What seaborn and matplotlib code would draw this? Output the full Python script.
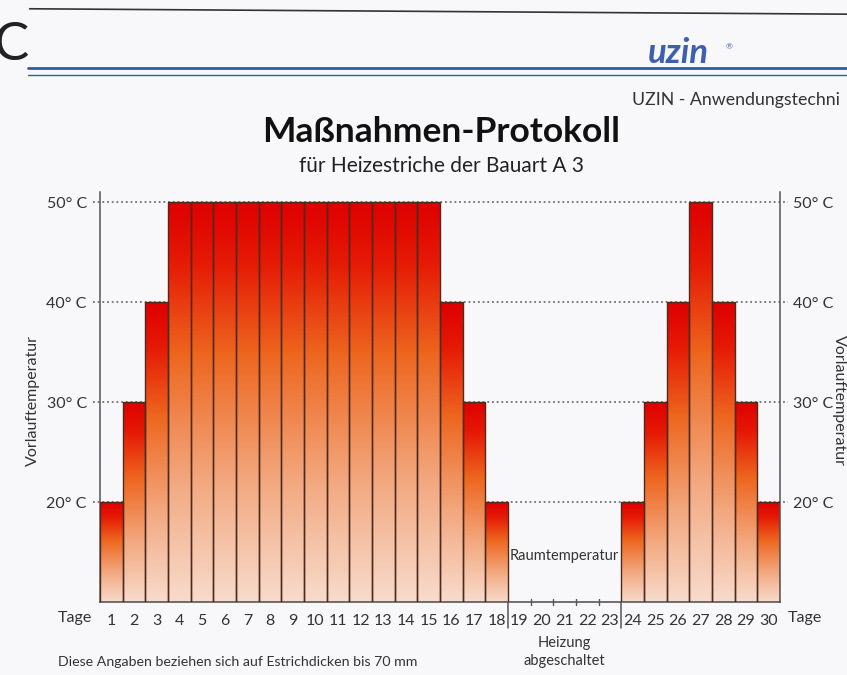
import numpy as np
import pandas as pd
import matplotlib
matplotlib.use("Agg")
import matplotlib.pyplot as plt
import matplotlib.transforms as mtransforms
from matplotlib.colors import LinearSegmentedColormap
import seaborn as sns

# Vorlauftemperatur je Tag (Tage 19-23: Heizung abgeschaltet)
days = [1, 2, 3, 4, 5, 6, 7, 8, 9, 10, 11, 12, 13, 14, 15, 16, 17, 18,
        24, 25, 26, 27, 28, 29, 30]
temps = [20, 30, 40, 50, 50, 50, 50, 50, 50, 50, 50, 50, 50, 50, 50, 40, 30, 20,
         20, 30, 40, 50, 40, 30, 20]
all_days = list(range(1, 31))
off_days = [19, 20, 21, 22, 23]
levels = [20, 30, 40, 50]
level_labels = ["20° C", "30° C", "40° C", "50° C"]

sns.set_style("white")
plt.rcParams["font.family"] = ["Lato", "DejaVu Sans"]

BG = "#f8f8fa"
EDGE = "#4e2a1e"
AXC = "#555555"

fig = plt.figure(figsize=(8.47, 6.75), dpi=100, facecolor=BG)
ax = fig.add_axes([100 / 847, 73 / 675, 680 / 847, 410 / 675])
ax.set_facecolor("none")

df = pd.DataFrame({"Tag": days, "Temp": temps})
sns.barplot(data=df, x="Tag", y="Temp", native_scale=True, width=1.0,
            color="#e03000", edgecolor=EDGE, linewidth=1.0, ax=ax, zorder=3)

# gradient fill (red top -> pale bottom) clipped to each bar
grad_cmap = LinearSegmentedColormap.from_list("heat", [
    (0.0, (0.97, 0.86, 0.80)),
    (0.3, (0.95, 0.66, 0.50)),
    (0.62, (0.93, 0.40, 0.12)),
    (0.85, (0.90, 0.10, 0.02)),
    (1.0, (0.87, 0.0, 0.0)),
])
grad = np.linspace(0, 1, 256).reshape(-1, 1)
for p in ax.patches:
    x0, w, h = p.get_x(), p.get_width(), p.get_height()
    im = ax.imshow(grad, cmap=grad_cmap, origin="lower", aspect="auto",
                   extent=[x0, x0 + w, 10, h], zorder=2, interpolation="bilinear")
    im.set_clip_path(p)
    p.set_facecolor("none")

ax.set_xlim(0.5, 30.5)
ax.set_ylim(10, 51)

# dotted reference lines
trans = mtransforms.blended_transform_factory(ax.transAxes, ax.transData)
for lv in levels:
    ax.plot([-0.011, 1.012], [lv, lv], transform=trans, ls=(0, (1, 1.6)),
            color="#707070", lw=1.3, clip_on=False, zorder=1)

ax.spines["top"].set_visible(False)
for side in ["left", "right", "bottom"]:
    ax.spines[side].set_visible(True)
    ax.spines[side].set_color(AXC)
    ax.spines[side].set_linewidth(1.1)
ax.spines["bottom"].set_color("#4a4a4a")

ax.set_yticks(levels)
ax.set_yticklabels(level_labels)
ax.set_xticks(all_days)
ax.set_xticklabels([str(d) for d in all_days])
ax.tick_params(axis="y", left=False, right=False, labelleft=True, labelright=True,
               pad=6, labelsize=11.5, labelcolor="#333333")
ax.tick_params(axis="x", bottom=False, pad=5, labelsize=11.5, labelcolor="#333333")
ax.set_xlabel("")
ax.set_ylabel("")

# heating off zone: separators and small ticks
for xs in [18.5, 23.5]:
    ax.plot([xs, xs], [10, 7.4], color=AXC, lw=1.1, clip_on=False, zorder=4)
for d in off_days[:-1]:
    ax.plot([d + 0.5, d + 0.5], [9.75, 10.35], color=AXC, lw=1.0, clip_on=False, zorder=4)

ax.text(21.0, 14.6, "Raumtemperatur", ha="center", va="center", fontsize=10.5, color="#333333")
ax.text(21.0, 5.0, "Heizung\nabgeschaltet", ha="center", va="center", fontsize=10.5,
        color="#333333", linespacing=1.3)
ax.text(-0.6, 8.4, "Tage", ha="center", va="center", fontsize=11.5, color="#333333", clip_on=False)
ax.text(31.6, 8.4, "Tage", ha="center", va="center", fontsize=11.5, color="#333333", clip_on=False)
ax.text(-2.45, 30.2, "Vorlauftemperatur", rotation=90, ha="center", va="center",
        fontsize=11.5, color="#333333")
ax.text(33.1, 30.2, "Vorlauftemperatur", rotation=270, ha="center", va="center",
        fontsize=11.5, color="#333333")

# titles and page header
fig.text(0.521, 0.805, "Maßnahmen-Protokoll", ha="center", va="center",
         fontsize=25.5, fontweight="bold", color="#111111")
fig.text(0.521, 0.754, "für Heizestriche der Bauart A 3", ha="center", va="center",
         fontsize=15, color="#222222")
fig.text(0.746, 0.852, "UZIN - Anwendungstechni", ha="left", va="center",
         fontsize=12.8, color="#333333")
fig.text(0.801, 0.922, "uzin", ha="center", va="center", fontsize=25,
         fontweight="bold", fontstyle="italic", color="#3d5fb0")
fig.text(0.861, 0.931, "®", ha="center", va="center", fontsize=6, color="#3d5fb0")
fig.text(-0.008, 0.933, "C", ha="left", va="center", fontsize=38, color="#222222")
fig.text(0.069, 0.019, "Diese Angaben beziehen sich auf Estrichdicken bis 70 mm",
         ha="left", va="center", fontsize=10.2, color="#333333")

fig.add_artist(plt.Line2D([0.035, 1.0], [0.987, 0.979], color="#333333", lw=1.2))
fig.add_artist(plt.Line2D([0.033, 1.0], [0.899, 0.899], color="#3a56a8", lw=2.0))
fig.add_artist(plt.Line2D([0.033, 1.0], [0.889, 0.889], color="#3a56a8", lw=1.0))

fig.savefig("out.png", dpi=100, facecolor=BG)
